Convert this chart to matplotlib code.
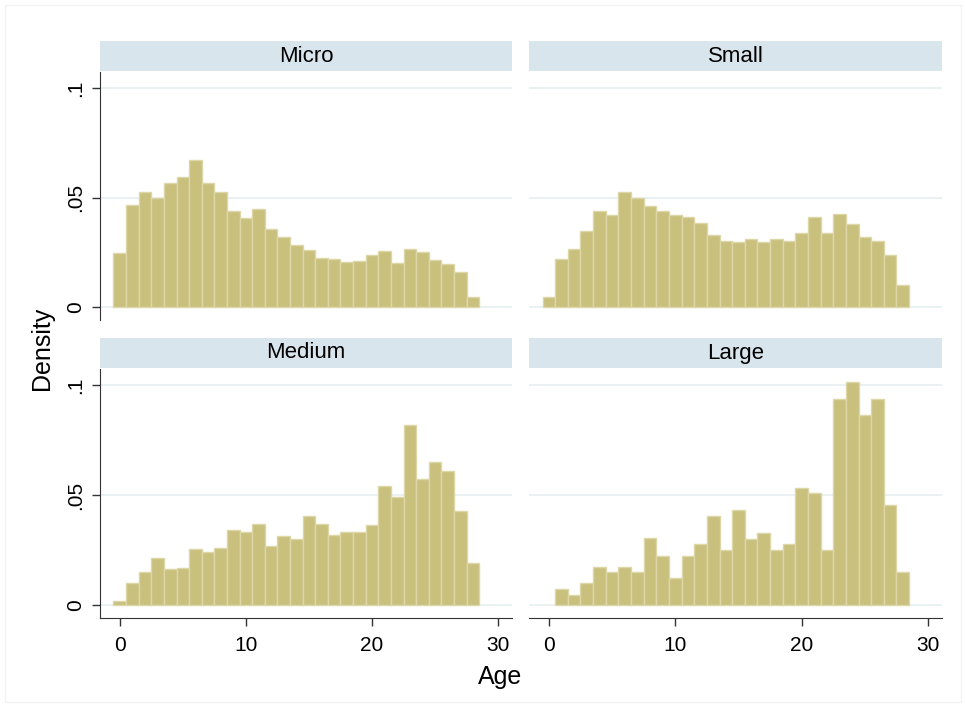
import numpy as np
import matplotlib
matplotlib.use("Agg")
import matplotlib.pyplot as plt
from matplotlib.patches import Rectangle

plt.rcParams['font.family'] = ['Liberation Sans', 'DejaVu Sans']

# Histogram densities by firm size, one bin per year of age
micro_start = 0
micro = [0.0248, 0.0467, 0.0524, 0.0500, 0.0568, 0.0595, 0.0674, 0.0568, 0.0524, 0.0438,
         0.0409, 0.0447, 0.0356, 0.0322, 0.0284, 0.0263, 0.0224, 0.0219, 0.0207, 0.0211,
         0.0239, 0.0255, 0.0201, 0.0267, 0.0252, 0.0218, 0.0198, 0.0159, 0.0048]
small_start = 0
small = [0.0045, 0.0219, 0.0264, 0.0350, 0.0441, 0.0420, 0.0526, 0.0497, 0.0462, 0.0438,
         0.0420, 0.0412, 0.0387, 0.0332, 0.0302, 0.0298, 0.0314, 0.0296, 0.0311, 0.0304,
         0.0337, 0.0411, 0.0337, 0.0424, 0.0382, 0.0320, 0.0301, 0.0239, 0.0103]
medium_start = 0
medium = [0.0021, 0.0102, 0.0150, 0.0217, 0.0166, 0.0170, 0.0254, 0.0240, 0.0258, 0.0340,
          0.0331, 0.0371, 0.0271, 0.0315, 0.0302, 0.0406, 0.0368, 0.0319, 0.0334, 0.0334,
          0.0363, 0.0540, 0.0492, 0.0818, 0.0576, 0.0649, 0.0609, 0.0427, 0.0193]
large_start = 1
large = [0.0076, 0.0047, 0.0102, 0.0176, 0.0150, 0.0176, 0.0152, 0.0304, 0.0226, 0.0126,
         0.0226, 0.0278, 0.0406, 0.0252, 0.0432, 0.0302, 0.0328, 0.0252, 0.0278, 0.0535,
         0.0509, 0.0252, 0.0939, 0.1017, 0.0865, 0.0939, 0.0457, 0.0152]

panels = [("Micro", micro_start, micro),
          ("Small", small_start, small),
          ("Medium", medium_start, medium),
          ("Large", large_start, large)]

x_ticks = [0, 10, 20, 30]
y_ticks = [0, 0.05, 0.1]
y_ticklabels = ["0", ".05", ".1"]

W, H = 966, 707
fig = plt.figure(figsize=(W / 100, H / 100), dpi=100)
fig.patch.set_facecolor("white")

bar_color = "#C9C07E"
edge_color = "#DDD7A8"
strip_color = "#D9E5EC"
grid_color = "#E6EFF1"

# faint outer frame of the graph region
fig.add_artist(Rectangle((5 / W, 5 / H), 1 - 10 / W, 1 - 10 / H,
                         transform=fig.transFigure, fill=False,
                         edgecolor="#F1F3F4", linewidth=1))

# panel boxes in pixel units: (left, right, top, bottom)
boxes = [(100, 512, 72, 320), (529, 942, 72, 320),
         (100, 512, 369, 618), (529, 942, 369, 618)]
strip_h = 30

for i, ((title, start, vals), (l, r, t, b)) in enumerate(zip(panels, boxes)):
    ax = fig.add_axes([l / W, 1 - b / H, (r - l) / W, (b - t) / H])
    centers = np.arange(start, start + len(vals))
    ax.bar(centers, vals, width=1.0, color=bar_color, edgecolor=edge_color,
           linewidth=1.0, zorder=2)
    ax.set_xlim(-1.57, 31.1)
    ax.set_ylim(-0.0058, 0.1074)
    for yv in y_ticks:
        ax.axhline(yv, color=grid_color, linewidth=1.2, zorder=1)
    for s in ax.spines.values():
        s.set_visible(False)
    ax.set_yticks(y_ticks)
    ax.set_xticks(x_ticks)
    left_col = i % 2 == 0
    bottom_row = i >= 2
    if left_col:
        ax.spines['left'].set_visible(True)
        ax.spines['left'].set_color("#333333")
        ax.set_yticklabels(y_ticklabels, rotation=90, va='center', fontsize=15)
        ax.tick_params(axis='y', length=6, width=1, color="#333333", pad=5)
    else:
        ax.tick_params(axis='y', length=0, labelleft=False)
    if bottom_row:
        ax.spines['bottom'].set_visible(True)
        ax.spines['bottom'].set_color("#333333")
        ax.set_xticklabels([str(v) for v in x_ticks], fontsize=15)
        ax.tick_params(axis='x', length=6, width=1, color="#333333", pad=7)
    else:
        ax.tick_params(axis='x', length=0, labelbottom=False)

    sax = fig.add_axes([l / W, 1 - (t - 1) / H, (r - l) / W, strip_h / H])
    sax.set_facecolor(strip_color)
    sax.set_xticks([])
    sax.set_yticks([])
    for s in sax.spines.values():
        s.set_visible(False)
    sax.text(0.5, 0.5, title, ha='center', va='center', fontsize=16,
             transform=sax.transAxes)

fig.text(42 / W, 1 - 348 / H, "Density", rotation=90, ha='center', va='center',
         fontsize=18)
fig.text(500 / W, 1 - 677 / H, "Age", ha='center', va='center', fontsize=18)

fig.savefig("out.png", dpi=100, facecolor="white")
